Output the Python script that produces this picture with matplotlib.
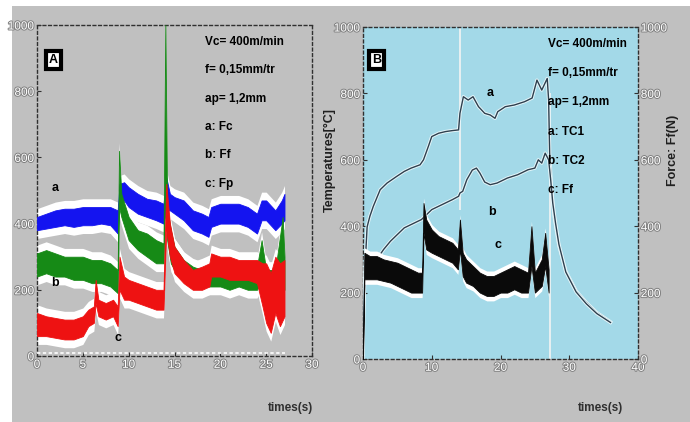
import matplotlib.pyplot as plt
import matplotlib.patheffects as pe
from matplotlib.patches import Rectangle

# ---- panel A : cutting forces (N) vs time (s) ----
fc_t = [0, 1, 2, 3, 4, 5, 6, 7, 8, 8.8, 9.0, 9.5, 10, 11, 12, 13, 13.8, 14.1, 14.5,
        15, 16, 17, 18, 18.7, 19, 20, 21, 22, 23, 24, 24.5, 25, 26, 26.7, 27]
fc_lo = [380, 385, 390, 395, 390, 395, 395, 400, 395, 370, 460, 470, 450, 430, 420, 410, 400, 440, 440,
         430, 410, 380, 370, 360, 390, 400, 400, 400, 390, 370, 410, 410, 380, 400, 410]
fc_hi = [420, 430, 440, 445, 445, 450, 450, 450, 450, 440, 520, 525, 510, 490, 475, 470, 460, 540, 490,
         480, 470, 440, 430, 420, 450, 460, 460, 460, 450, 430, 470, 470, 440, 470, 490]

ff_t = [0, 1, 2, 3, 4, 5, 6, 7, 8, 8.8, 8.95, 9.2, 10, 11, 12, 13, 13.8, 14.0, 14.2, 14.6,
        15, 16, 17, 18, 19, 20, 21, 22, 23, 24, 24.5, 25, 26, 26.8, 27]
ff_lo = [240, 250, 240, 240, 230, 230, 220, 220, 210, 190, 450, 420, 350, 320, 300, 280, 280, 500, 350, 280,
         260, 230, 210, 210, 210, 210, 200, 210, 200, 200, 230, 200, 190, 250, 200]
ff_hi = [310, 320, 310, 300, 300, 300, 290, 290, 280, 260, 620, 490, 420, 380, 370, 350, 340, 1000, 450, 380,
         330, 290, 270, 260, 270, 260, 260, 260, 260, 270, 350, 260, 260, 420, 300]

fp_t = [0, 1, 2, 3, 4, 5, 5.6, 6.2, 6.4, 6.7, 7.5, 8.3, 8.8, 9.0, 9.5, 10, 11, 12, 13, 13.8, 14.1,
        14.5, 15, 16, 17, 18, 18.8, 19, 20, 21, 22, 23, 24, 24.6, 25, 25.5, 26, 26.5, 27]
fp_lo = [60, 60, 55, 50, 50, 60, 90, 100, 160, 120, 110, 120, 90, 200, 170, 170, 160, 150, 140, 140, 380,
         300, 250, 220, 200, 200, 210, 240, 240, 230, 230, 230, 220, 150, 100, 70, 130, 90, 120]
fp_hi = [130, 120, 115, 110, 110, 120, 140, 150, 230, 170, 160, 170, 150, 300, 240, 230, 220, 210, 200, 200, 520,
         400, 330, 290, 260, 270, 280, 310, 300, 300, 290, 290, 290, 280, 280, 250, 300, 280, 290]

zero_t = [0, 27]
zero_v = [8, 8]

# ---- panel B : temperatures (°C) and feed force (N) vs time (s) ----
tc1_t = [0, 0.1, 0.3, 0.6, 1, 1.5, 2.5, 3.5, 4.9, 6, 7, 8.3, 8.8, 9.5, 10, 11, 12, 13, 13.9,
         14.1, 14.6, 15.3, 16, 16.8, 17.7, 18.5, 19.2, 19.6, 20.7, 22, 23.5, 24.6, 25.3, 26, 26.8, 27.0,
         27.15, 27.4, 27.8, 28.5, 29.5, 31, 32.5, 34, 36]
tc1_v = [0, 120, 280, 398, 430, 460, 510, 530, 550, 565, 575, 585, 600, 640, 670, 680, 685, 688, 690,
         740, 790, 780, 790, 760, 740, 735, 725, 745, 760, 765, 775, 786, 840, 810, 845, 780,
         620, 520, 430, 340, 265, 205, 170, 140, 112]

tc2_t = [2.0, 3, 4, 5, 6, 7, 8.5, 9, 10, 11, 12, 13, 13.9, 14.1, 14.5, 15.1, 15.9, 16.5, 17.0, 17.7,
         18.5, 19.5, 21, 22.5, 24, 25, 25.5, 26, 26.5, 27.0,
         27.3, 27.6, 28, 28.5, 29.5, 31, 32.5, 34, 36]
tc2_v = [300, 330, 355, 375, 395, 405, 420, 430, 450, 460, 470, 480, 490, 500, 505, 540, 569, 575, 560, 533,
         525, 530, 545, 555, 570, 575, 600, 590, 620, 600,
         540, 470, 410, 345, 262, 202, 166, 137, 110]

ffb_t = [0, 0.2, 1, 2, 3, 4, 5, 6, 7, 8, 8.6, 8.8, 9.2, 10, 11, 12, 13, 13.8, 14.1, 14.5,
         15, 16, 17, 18, 19, 20, 21, 22, 23, 24, 24.5, 25, 26, 26.5, 27]
ffb_lo = [0, 240, 240, 240, 235, 230, 220, 210, 200, 200, 200, 380, 330, 320, 310, 300, 290, 270, 330, 250,
          230, 220, 200, 190, 190, 200, 200, 210, 200, 200, 280, 200, 220, 280, 200]
ffb_hi = [20, 320, 310, 310, 300, 295, 290, 280, 270, 260, 260, 470, 420, 390, 370, 360, 350, 330, 420, 320,
          300, 280, 260, 250, 250, 260, 270, 280, 270, 260, 400, 260, 300, 380, 270]

flash_t = [14.1, 27.2]
flash_lo = [450, 0]
flash_hi = [1000, 800]

params_a = ["Vc= 400m/min", "f= 0,15mm/tr", "ap= 1,2mm", "a: Fc", "b: Ff", "c: Fp"]
params_b = ["Vc= 400m/min", "f= 0,15mm/tr", "ap= 1,2mm", "a: TC1", "b: TC2", "c: Ff"]

GRAY = '#c0c0c0'
BLUE_BG = '#a3d9e8'
NARROW = ['Liberation Sans Narrow', 'Liberation Sans', 'DejaVu Sans']

fig = plt.figure(figsize=(6.9, 4.22), dpi=100, facecolor='white')
fig.patches.append(Rectangle((12 / 690, 0), 1, 1 - 6 / 422, transform=fig.transFigure,
                             facecolor=GRAY, edgecolor='none', zorder=-10))

axa = fig.add_axes([37 / 690, 1 - 356 / 422, 275 / 690, 331 / 422])
axb = fig.add_axes([363 / 690, 1 - 359 / 422, 275 / 690, 332 / 422])
axb2 = axb.twinx()

tick_fx = [pe.withStroke(linewidth=1.4, foreground='#808080')]


def style_labels(labels):
    for lab in labels:
        lab.set_family(NARROW)
        lab.set_color('white')
        lab.set_path_effects(tick_fx)


def style(ax, xmax, xticks, bg):
    ax.set_facecolor(bg)
    ax.set_xlim(0, xmax)
    ax.set_ylim(0, 1000)
    ax.set_xticks(xticks)
    ax.set_yticks(range(0, 1001, 200))
    for s in ax.spines.values():
        s.set_linestyle((0, (2, 2)))
        s.set_color('#303030')
        s.set_linewidth(1.0)
    ax.tick_params(direction='in', length=3, color='#303030', labelsize=8.5, pad=2)
    style_labels(ax.get_xticklabels() + ax.get_yticklabels())


style(axa, 30, range(0, 31, 5), GRAY)
style(axb, 40, range(0, 41, 10), BLUE_BG)
axb2.set_ylim(0, 1000)
axb2.set_yticks(range(0, 1001, 200))
axb2.tick_params(direction='in', length=3, color='#303030', labelsize=8.5, pad=2)
style_labels(axb2.get_yticklabels())
for s in axb2.spines.values():
    s.set_visible(False)

# panel A bands: white halo first, then coloured core
for t, lo, hi in [(fc_t, fc_lo, fc_hi), (ff_t, ff_lo, ff_hi), (fp_t, fp_lo, fp_hi)]:
    axa.fill_between(t, [v - 25 for v in lo], [v + 25 for v in hi], color='white', lw=0, zorder=2)
for t, lo, hi, c in [(fc_t, fc_lo, fc_hi, '#1414f0'), (ff_t, ff_lo, ff_hi, '#168a16'),
                     (fp_t, fp_lo, fp_hi, '#ee1212')]:
    axa.fill_between(t, lo, hi, color=c, lw=0.6, edgecolor=c, zorder=3)
axa.plot(zero_t, zero_v, color='white', lw=1.2, ls=(0, (2, 1.5)), zorder=3)

for i, s in enumerate(params_a):
    axa.text(0.611, 0.949 - i * 0.0858, s, transform=axa.transAxes, family=NARROW,
             fontsize=8.5, fontweight='bold', va='center', ha='left', color='black', zorder=5)
axa.text(0.06, 0.894, 'A', transform=axa.transAxes, family=NARROW, fontsize=9, fontweight='bold',
         ha='center', va='center', zorder=5,
         bbox=dict(boxstyle='square,pad=0.25', facecolor='white', edgecolor='black', linewidth=3))
axa.text(2.0, 508, 'a', fontsize=9, fontweight='bold', family=NARROW, ha='center', va='center', zorder=5)
axa.text(2.0, 220, 'b', fontsize=9, fontweight='bold', family=NARROW, ha='center', va='center', zorder=5)
axa.text(8.8, 55, 'c', fontsize=9, fontweight='bold', family=NARROW, ha='center', va='center', zorder=5)

# panel B
axb.set_zorder(axb2.get_zorder() - 1)
axb2.patch.set_visible(False)
axb.vlines(flash_t, flash_lo, flash_hi, color='#f4f4f4', lw=1.2, zorder=2)
line_fx = [pe.Stroke(linewidth=2.4, foreground='#e6f6fa'), pe.Normal()]
axb.plot(tc1_t, tc1_v, color='#2e3f4e', lw=1.0, zorder=3, path_effects=line_fx)
axb.plot(tc2_t, tc2_v, color='#2e3f4e', lw=1.0, zorder=3, path_effects=line_fx)
axb2.fill_between(ffb_t, [v - 15 for v in ffb_lo], [v + 15 for v in ffb_hi], color='white', lw=0, zorder=2)
axb2.fill_between(ffb_t, ffb_lo, ffb_hi, color='#0a0a0a', lw=0.6, edgecolor='#0a0a0a', zorder=3)

for i, s in enumerate(params_b):
    axb.text(0.673, 0.949 - i * 0.088, s, transform=axb.transAxes, family=NARROW,
             fontsize=8.5, fontweight='bold', va='center', ha='left', color='black', zorder=5)
axb.text(0.05, 0.90, 'B', transform=axb.transAxes, family=NARROW, fontsize=9, fontweight='bold',
         ha='center', va='center', zorder=5,
         bbox=dict(boxstyle='square,pad=0.25', facecolor='white', edgecolor='black', linewidth=3))
axb.text(18.5, 802, 'a', fontsize=9, fontweight='bold', family=NARROW, ha='center', va='center', zorder=5)
axb.text(18.8, 443, 'b', fontsize=9, fontweight='bold', family=NARROW, ha='center', va='center', zorder=5)
axb.text(19.6, 343, 'c', fontsize=9, fontweight='bold', family=NARROW, ha='center', va='center', zorder=5)

fig.text(330 / 690, 1 - 160 / 422, 'Temperatures[°C]', rotation=90, family=NARROW, fontsize=9,
         fontweight='bold', color='#202020', ha='center', va='center')
fig.text(673 / 690, 1 - 150 / 422, 'Force: Ff(N)', rotation=90, family=NARROW, fontsize=9,
         fontweight='bold', color='#202020', ha='center', va='center')
fig.text(290 / 690, 1 - 408 / 422, 'times(s)', family=NARROW, fontsize=8.5, fontweight='bold',
         color='#303030', ha='center', va='center')
fig.text(600 / 690, 1 - 408 / 422, 'times(s)', family=NARROW, fontsize=8.5, fontweight='bold',
         color='#303030', ha='center', va='center')

fig.savefig('out.png', dpi=100, facecolor=fig.get_facecolor())
